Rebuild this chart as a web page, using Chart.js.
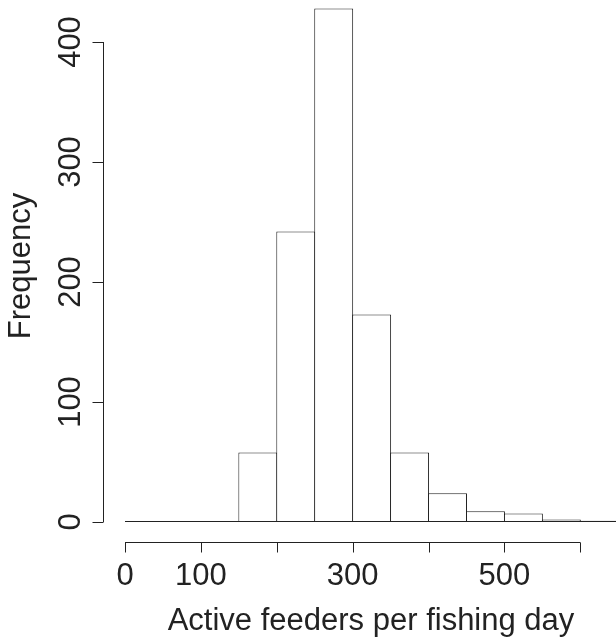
<!DOCTYPE html>
<html>
<head>
<meta charset="utf-8">
<script src="https://cdn.jsdelivr.net/npm/chart.js@4.4.1/dist/chart.umd.min.js"></script>
<style>
  html, body { margin: 0; padding: 0; background: #fff; }
  #wrap { width: 616px; height: 638px; }
</style>
</head>
<body>
<div id="wrap"><canvas id="chart" width="616" height="638"></canvas></div>
<script>
// histogram bins (midpoints, width 50) and counts
const binMids = [25, 75, 125, 175, 225, 275, 325, 375, 425, 475, 525, 575, 625];
const counts = [0, 0, 0, 58, 242, 428, 173, 58, 24, 9, 7, 2, 1];

const xTicks = [0, 100, 200, 300, 400, 500, 600];
const xTickLabels = ['0', '100', '', '300', '', '500', ''];
const yTicks = [0, 100, 200, 300, 400];
const yTickLabels = ['0', '100', '200', '300', '400'];

const xTitle = 'Active feeders per fishing day';
const yTitle = 'Frequency';

const font = '31px "Liberation Sans", Arial, sans-serif';
const ink = '#222';

// R style axes drawn on top of the (hidden) chart.js scales
const rAxes = {
    id: 'rAxes',
    afterDraw(chart) {
        const ctx = chart.ctx;
        const x = chart.scales.x;
        const y = chart.scales.y;
        ctx.save();
        ctx.strokeStyle = ink;
        ctx.fillStyle = ink;
        ctx.lineWidth = 1;
        ctx.font = font;

        // zero line under the empty bins (lines up with the bar bottoms)
        const zeroY = Math.round(y.getPixelForValue(0)) - 0.5;
        ctx.beginPath();
        ctx.moveTo(x.getPixelForValue(0), zeroY);
        ctx.lineTo(chart.width, zeroY);
        ctx.stroke();

        // x axis
        const xLineY = 542.5;
        ctx.beginPath();
        ctx.moveTo(x.getPixelForValue(xTicks[0]), xLineY);
        ctx.lineTo(x.getPixelForValue(xTicks[xTicks.length - 1]), xLineY);
        xTicks.forEach(function(t) {
            const px = Math.round(x.getPixelForValue(t)) + 0.5;
            ctx.moveTo(px, xLineY);
            ctx.lineTo(px, xLineY + 10);
        });
        ctx.stroke();
        ctx.textAlign = 'center';
        ctx.textBaseline = 'alphabetic';
        xTicks.forEach(function(t, i) {
            if (xTickLabels[i]) ctx.fillText(xTickLabels[i], x.getPixelForValue(t), 585);
        });
        ctx.fillText(xTitle, 371, 630);

        // y axis
        const yLineX = 103.5;
        ctx.beginPath();
        ctx.moveTo(yLineX, y.getPixelForValue(yTicks[0]));
        ctx.lineTo(yLineX, y.getPixelForValue(yTicks[yTicks.length - 1]));
        yTicks.forEach(function(t) {
            const py = Math.round(y.getPixelForValue(t)) + 0.5;
            ctx.moveTo(yLineX, py);
            ctx.lineTo(yLineX - 11, py);
        });
        ctx.stroke();
        yTicks.forEach(function(t, i) {
            ctx.save();
            ctx.translate(80, y.getPixelForValue(t));
            ctx.rotate(-Math.PI / 2);
            ctx.fillText(yTickLabels[i], 0, 0);
            ctx.restore();
        });
        ctx.save();
        ctx.translate(30, 266);
        ctx.rotate(-Math.PI / 2);
        ctx.fillText(yTitle, 0, 0);
        ctx.restore();

        ctx.restore();
    }
};

const ctx = document.getElementById('chart').getContext('2d');
const chart = new Chart(ctx, {
    type: 'bar',
    data: {
        datasets: [{
            data: binMids.map((m, i) => ({ x: m, y: counts[i] })),
            backgroundColor: '#fff',
            borderColor: ink,
            borderWidth: 1,
            borderSkipped: false,
            barPercentage: 1.026,
            categoryPercentage: 1
        }]
    },
    options: {
        responsive: false,
        animation: false,
        layout: {
            padding: { left: 125, right: 0, top: 0, bottom: 107 }
        },
        scales: {
            x: {
                type: 'linear',
                min: 0,
                max: 647,
                display: false,
                offset: false,
                ticks: { stepSize: 100, includeBounds: false }
            },
            y: {
                min: -7.5,
                max: 435,
                display: false
            }
        },
        plugins: {
            legend: { display: false },
            tooltip: { enabled: false }
        }
    },
    plugins: [rAxes]
});
</script>
</body>
</html>
